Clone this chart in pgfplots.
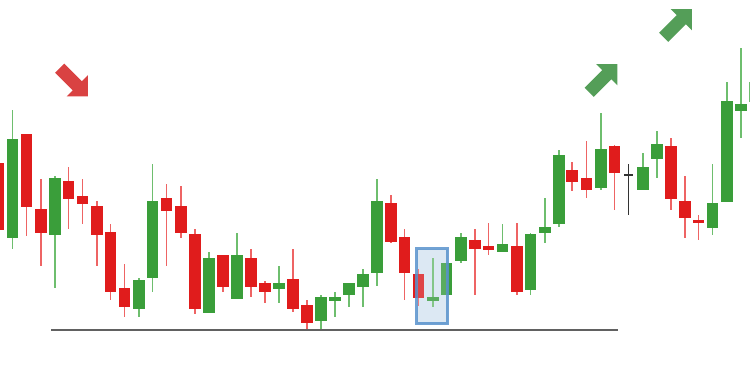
\documentclass[border=0pt]{standalone}
\usepackage{pgfplots}
\usepackage{pgfplotstable}
\pgfplotsset{compat=1.18}
\definecolor{cgreen}{RGB}{58,158,58}
\definecolor{cred}{RGB}{224,28,28}
\definecolor{wgreen}{RGB}{110,190,110}
\definecolor{wred}{RGB}{238,100,100}
\definecolor{agreen}{RGB}{84,158,88}
\definecolor{ared}{RGB}{217,66,66}
\definecolor{bluebox}{RGB}{88,146,204}
\definecolor{bluefill}{RGB}{220,232,243}

% columns: x position, high (top of wick), body top, body bottom, low (bottom of wick) -- in picture rows (0 = top)
\pgfplotstableread{
x hi bt bb lo
12.5 110 139 238 249
55 176 178 235 288
139 278 280 309 317
152.5 164 201 278 292
209 252 258 313 313
237 233 255 299 299
279 266 283 289 303
321 295 297 321 329
335 292 297 301 317
349 283 283 295 307
363 269 274 287 307
377 179 201 273 286
433 258 297 301 307
446.5 263 263 295 295
461 233 237 261 263
502.5 224 244 252 252
530.5 233 234 290 295
545 198 227 233 243
559 150 155 224 227
601 113 149 188 190
643 153 167 190 190
657 131 144 159 178
712.5 164 203 228 235
727 82 101 202 202
741 48 104 111 138
}\greentab

\pgfplotstableread{
x hi bt bb lo
-1.5 163 163 230 230
26.5 134 134 207 236
41 179 209 233 266
68.5 167 181 199 229
82.5 179 196 204 224
97 201 206 235 266
110.5 224 232 292 300
124.5 264 288 307 317
166.5 184 198 211 266
181 186 206 233 238
195 229 234 309 314
223 255 255 287 292
251 249 258 287 297
265 281 283 292 303
293 249 279 309 312
307 300 305 323 329
391 195 203 242 243
404.5 229 237 273 300
418.5 269 274 298 306
475 229 240 249 295
488.5 223 246 250 255
517 223 246 292 295
572 162 170 182 191
586.5 141 178 190 198
614.5 145 146 173 210
671 138 146 199 210
685 176 201 218 238
698.5 215 220 223 240
}\redtab

\pgfplotstableread{
x hi bt bb lo
628.5 164 174.3 175.7 215
}\dojitab

\pgfplotsset{
  wick/.style={draw=none, mark=none, error bars/.cd, y dir=both, y explicit,
    error mark=none, error bar style={draw=#1, line width=1.8bp, solid}},
  body/.style 2 args={draw=none, mark=none, error bars/.cd, y dir=both, y explicit,
    error mark=none, error bar style={draw=#1, line width=#2, solid}},
}

\begin{document}
\begin{tikzpicture}
\useasboundingbox (0,0) rectangle (750bp,375bp);
\begin{axis}[
  at={(0,0)}, anchor=south west,
  width=750bp, height=375bp, scale only axis,
  xmin=0, xmax=750, ymin=0, ymax=375,
  y dir=reverse,
  hide axis, clip=true,
]
% support line
\addplot[color=black!62, line width=2.8bp, mark=none] coordinates {(51,330) (618,330)};

% highlight box fill (behind the candles)
\fill[bluefill] (axis cs:416.5,248.8) rectangle (axis cs:447.8,323.5);

% green candles
\addplot[wick=wgreen]
  table[x=x, y expr={(\thisrow{hi}+\thisrow{lo})/2}, y error expr={(\thisrow{lo}-\thisrow{hi})/2}] {\greentab};
\addplot[body={cgreen}{11.5bp}]
  table[x=x, y expr={(\thisrow{bt}+\thisrow{bb})/2}, y error expr={(\thisrow{bb}-\thisrow{bt})/2}] {\greentab};
% last partial wick at the right edge
\addplot[color=wgreen, line width=1.8bp, mark=none] coordinates {(749.5,82) (749.5,102)};

% red candles
\addplot[wick=wred]
  table[x=x, y expr={(\thisrow{hi}+\thisrow{lo})/2}, y error expr={(\thisrow{lo}-\thisrow{hi})/2}] {\redtab};
\addplot[body={cred}{11.5bp}]
  table[x=x, y expr={(\thisrow{bt}+\thisrow{bb})/2}, y error expr={(\thisrow{bb}-\thisrow{bt})/2}] {\redtab};

% doji
\addplot[wick=black!80]
  table[x=x, y expr={(\thisrow{hi}+\thisrow{lo})/2}, y error expr={(\thisrow{lo}-\thisrow{hi})/2}] {\dojitab};
\addplot[body={black!80}{9bp}]
  table[x=x, y expr={(\thisrow{bt}+\thisrow{bb})/2}, y error expr={(\thisrow{bb}-\thisrow{bt})/2}] {\dojitab};

% highlight box: light tint and border on top
\fill[bluefill, fill opacity=0.2] (axis cs:416.5,248.8) rectangle (axis cs:447.8,323.5);
\draw[draw=bluebox, line width=3bp, draw opacity=0.85]
  (axis cs:416.5,248.8) rectangle (axis cs:447.8,323.5);
\end{axis}

% arrows
\begin{scope}[x=1bp, y=1bp]
\fill[ared, shift={(73.8,292.7)}, rotate=-45]
  (-20,-6.5) -- (5,-6.5) -- (5,-15) -- (20,0) -- (5,15) -- (5,6.5) -- (-20,6.5) -- cycle;
\fill[agreen, shift={(603.3,296.8)}, rotate=45]
  (-20,-6.5) -- (5,-6.5) -- (5,-15) -- (20,0) -- (5,15) -- (5,6.5) -- (-20,6.5) -- cycle;
\fill[agreen, shift={(677.8,351.8)}, rotate=45]
  (-20,-6.5) -- (5,-6.5) -- (5,-15) -- (20,0) -- (5,15) -- (5,6.5) -- (-20,6.5) -- cycle;
\end{scope}
\end{tikzpicture}
\end{document}
